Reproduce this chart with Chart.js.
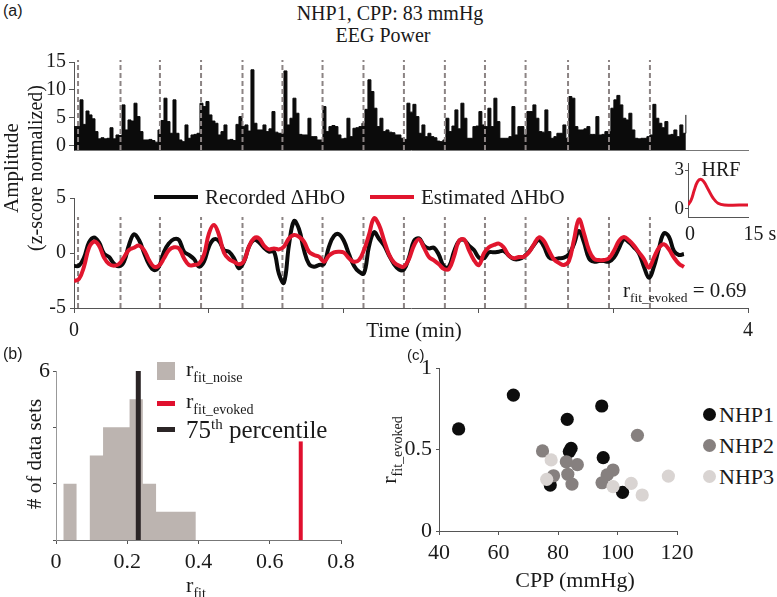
<!DOCTYPE html>
<html>
<head>
<meta charset="utf-8">
<script src="https://cdn.jsdelivr.net/npm/chart.js@4.4.1/dist/chart.umd.min.js"></script>
<style>
  body { margin: 0; width: 777px; height: 597px; position: relative; overflow: hidden; background: #fff;
         font-family: "Liberation Serif", serif; color: #1a1a1a; }
  canvas { position: absolute; }
  .t { position: absolute; white-space: nowrap; line-height: 1; }
  .c { transform: translate(-50%, -50%); }
  .l { transform: translate(0, -50%); }
  .rot { transform: translate(-50%, -50%) rotate(-90deg); }
  .sans { font-family: "Liberation Sans", sans-serif; }
  sub { font-size: 0.64em; vertical-align: -0.4em; line-height: 0; }
  sup { font-size: 0.6em; vertical-align: 0.6em; line-height: 0; }
  .seg { position: absolute; }
</style>
</head>
<body>

<!-- panel labels and titles -->
<div class="t sans" style="left:3px;top:3px;font-size:16px">(a)</div>
<div class="t c" style="left:390px;top:13px;font-size:20px">NHP1, CPP: 83 mmHg</div>
<div class="t c" style="left:383px;top:35px;font-size:20px">EEG Power</div>
<div class="t rot" style="left:11px;top:168px;font-size:21px">Amplitude</div>
<div class="t rot" style="left:35px;top:168px;font-size:20px">(z-score normalized)</div>

<div class="seg" style="left:154px;top:195px;width:44px;height:4px;background:#0b0b0b"></div>
<div class="t l" style="left:205px;top:197px;font-size:21px">Recorded &Delta;HbO</div>
<div class="seg" style="left:370px;top:195px;width:44px;height:4px;background:#e1162e"></div>
<div class="t l" style="left:421px;top:197px;font-size:21px">Estimated &Delta;HbO</div>

<div class="t c" style="left:721px;top:169px;font-size:20px">HRF</div>
<div class="t c" style="left:690px;top:233px;font-size:20px">0</div>
<div class="t c" style="left:760px;top:233px;font-size:20px">15 s</div>

<div class="t l" style="left:623px;top:290px;font-size:21px">r<sub>fit_evoked</sub> = 0.69</div>
<div class="t c" style="left:414px;top:330px;font-size:21px">Time (min)</div>

<div class="t sans" style="left:3px;top:346px;font-size:16px">(b)</div>
<div class="seg" style="left:157px;top:362px;width:18px;height:18px;background:#bcb4b0"></div>
<div class="t l" style="left:186px;top:369px;font-size:22px">r<sub>fit_noise</sub></div>
<div class="seg" style="left:157px;top:401px;width:18px;height:5px;background:#e0102e"></div>
<div class="t l" style="left:186px;top:401px;font-size:22px">r<sub>fit_evoked</sub></div>
<div class="seg" style="left:157px;top:427px;width:18px;height:5px;background:#2b2526"></div>
<div class="t l" style="left:186px;top:429px;font-size:25px">75<sup>th</sup> percentile</div>
<div class="t rot" style="left:34px;top:454px;font-size:21px"># of data sets</div>
<div class="t c" style="left:196px;top:585px;font-size:22px">r<sub>fit</sub></div>

<div class="t sans" style="left:407px;top:347px;font-size:15px">(c)</div>
<div class="t rot" style="left:389px;top:450px;font-size:22px">r<sub>fit_evoked</sub></div>
<div class="t c" style="left:575px;top:580px;font-size:22px">CPP (mmHg)</div>

<script>
// ---------- data ----------
const stimTimes = [0.024, 0.276, 0.510, 0.754, 1.000, 1.237, 1.475, 1.718, 1.958, 2.201, 2.439, 2.680, 2.932, 3.175, 3.418];

// EEG power, sampled every EEG_DT minutes from t = 0
const EEG_DT = 0.0178;
const eegPower = [
  3.4, 3.4, 8.2, 3.8, 6.2, 5.5, 4.8, 2.5, 1.2, 1.4,
  1.2, 1.3, 3.2, 1.2, 1.9, 1.8, 7.3, 2.8, 4.6, 4.4,
  7.6, 5.2, 2.5, 1.0, 1.0, 1.1, 0.9, 0.6, 2.8, 4.5,
  8.5, 4.3, 2.2, 8.2, 2.2, 1.0, 0.7, 3.7, 1.3, 1.9,
  2.0, 2.2, 7.6, 7.0, 7.9, 5.5, 4.4, 4.0, 1.9, 2.5,
  3.7, 1.0, 1.1, 0.9, 3.8, 5.2, 3.4, 3.7, 2.6, 13.6,
  4.0, 2.8, 2.8, 3.7, 2.5, 3.0, 6.1, 2.4, 2.2, 2.2,
  13.4, 3.7, 4.9, 8.5, 5.8, 2.0, 1.9, 1.9, 4.9, 1.6,
  1.6, 1.0, 1.0, 7.0, 2.5, 3.4, 3.6, 3.4, 1.9, 1.2,
  1.3, 4.9, 1.6, 3.1, 3.2, 3.4, 4.0, 6.5, 11.8, 9.7,
  6.7, 3.4, 4.9, 2.5,
  2.8, 2.4, 2.3, 1.9, 1.9, 1.3, 1.1, 7.6, 6.0, 7.4,
  5.2, 2.2, 3.7, 1.6, 2.2, 1.6, 1.4, 0.8, 0.7, 1.0,
  4.9, 2.5, 3.5, 6.4, 3.0, 7.6, 4.9, 1.3, 1.3, 3.4,
  3.5, 6.1, 3.7, 3.4, 6.7, 3.4, 8.5, 4.3, 1.3, 1.3,
  1.3, 1.6, 7.0, 1.9, 3.4, 3.4, 1.9, 6.1, 6.1, 7.3,
  4.9, 2.5, 2.4, 6.4, 2.5, 1.3, 1.6, 2.2, 2.2, 3.7,
  1.3, 8.8, 8.5, 3.4, 2.8, 2.8, 3.0, 3.4, 2.0, 2.0,
  5.2, 1.9, 2.0, 2.5, 2.5, 6.7, 8.2, 9.0, 7.3, 4.9,
  4.6, 5.8, 2.8, 1.3, 1.2, 1.3, 1.3, 1.6, 1.9, 7.4,
  4.9, 4.0, 3.2, 4.3, 1.9, 2.0, 2.8, 1.6, 3.7, 2.2, 5.5
];

// HbO traces, sampled every HBO_DT minutes from t = 0
const HBO_DT = 0.02967;
const hboRecorded = [
  -1.18, -1.15, -0.42, 0.97, 1.42, 0.97, -0.06, -0.36, -0.97, -1.21,
  -0.79, 0.73, 1.70, 1.18, 0.03, -1.03, -1.55, -1.24, 0.12, 0.88,
  1.27, 1.18, 0.12, -0.18, -0.55, -1.24, -0.79, 0.58, 1.24, 1.09,
  0.27, 0.12, -0.48, -1.39, -0.79, 0.58, 1.18, 0.97, 0.48, 0.12,
  0.12, -1.9, -2.7, 0.73, 2.9, 2.18, 0.27, -1.0, -1.24, -1.09,
  -1.0, 0.58, 1.55, 1.70, 1.09, -0.12, -1.15, -1.70, -1.85, 0.58,
  1.88, 1.3, 0.7,
  -0.2, -1.0, -1.5, -1.5, -0.42, 1.09, 1.33, 0.67, 0.42, 0.48,
  -0.18, -1.24, -1.24, 0.12, 1.09, 1.18, 0.67, 0.27, -0.42, -0.48,
  0.06, 0.06, 0.12, 0.18, -0.24, -0.55, -0.55, -0.33, 0.12, 0.73,
  1.18, 0.58, -0.39, -0.55, -0.48, -0.42, -0.12, 0.79, 2.0, 0.97,
  -0.48, -0.79, -0.73, -0.73, -0.79, -0.42, 0.42, 1.27, 0.97, 0.52,
  -0.03, -1.24, -2.25, -1.24, 0.42, 1.79, 1.48, 0.18, -0.18, -0.09
];
const hboEstimated = [
  -2.55, -2.36, -1.24, 0.48, 1.03, 0.67, -0.42, -1.0, -1.15, -1.0,
  -0.39, 0.27, 0.48, 0.67, 0.27, -0.64, -1.24, -1.15, -0.48, 0.27,
  0.52, 0.42, -0.48, -1.09, -1.09, -0.97, -0.18, 1.79, 2.55, 1.64,
  0.03, -0.55, -0.79, -1.03, -0.73, 0.58, 1.33, 1.33, 0.67, 0.33,
  0.42, 0.33, 0.58, 1.33, 1.64, 1.48, 1.03, 0.12, -0.18, -0.33,
  -0.79, -0.24, 0.06, 0.12, 0.03, -0.48, -0.79, -0.64, 0.27, 1.64,
  3.15, 2.55, 1.18,
  -0.12, -0.85, -1.15, -1.24, -0.55, 0.67, 1.24, 0.48, -0.36, -0.67,
  -1.03, -1.45, -1.45, -0.33, 1.09, 1.24, 0.27, -0.64, -1.09, -0.03,
  0.52, 0.73, 0.85, 0.48, -0.24, -0.48, -0.36, -0.33, 0.06, 0.79,
  1.42, 1.09, 0.21, -0.58, -0.91, -1.09, -0.73, 1.18, 3.06, 1.79,
  0.27, -0.52, -0.64, -0.64, -0.48, 0.21, 1.09, 1.45, 1.15, 0.67,
  0.06, -0.55, -1.33, -0.42, 0.48, 0.79, 0.33, -0.42, -0.97, -1.27
];

// HRF inset (seconds)
const hrfTime  = [0, 0.79, 1.58, 2.37, 3.16, 3.95, 5.13, 6.32, 7.5, 9.08, 15];
const hrfValue = [0.31, 0.69, 1.46, 2.10, 2.28, 2.10, 1.46, 0.82, 0.44, 0.31, 0.31];

// histogram (b)
const histEdges  = [0.0205, 0.0577, 0.0949, 0.1321, 0.1693, 0.2065, 0.2437, 0.2809, 0.3181, 0.3553, 0.3925];
const histCounts = [2, 0, 3, 4, 4, 5, 2, 1, 1, 1];
const percentile75 = 0.231;
const rFitEvoked = 0.687;
const rFitEvokedBar = 3.5;

// scatter (c)
const nhp1Cpp = [46.6, 65.0, 83.1, 94.7, 84.4, 83.8, 95.2, 77.4, 101.7];
const nhp1R   = [0.626, 0.834, 0.685, 0.767, 0.507, 0.487, 0.45, 0.282, 0.237];
const nhp2Cpp = [74.8, 106.7, 82.8, 86.5, 78.5, 83.3, 84.7, 98.5, 96.5, 94.8];
const nhp2R   = [0.491, 0.587, 0.425, 0.407, 0.339, 0.348, 0.288, 0.374, 0.344, 0.296];
const nhp3Cpp = [77.7, 76.2, 98.5, 104.6, 108.3, 117.1];
const nhp3R   = [0.436, 0.317, 0.272, 0.292, 0.221, 0.337];

// ---------- colours ----------
const BLACK = '#0b0b0b', RED = '#e1162e', DASH = '#8c8484', AXIS = '#555';

Chart.defaults.font.family = '"Liberation Serif", serif';
Chart.defaults.color = '#1a1a1a';
Chart.defaults.animation = false;
Chart.defaults.plugins.legend.display = false;
Chart.defaults.plugins.tooltip.enabled = false;

// canvas sized so the chart area lands on the given box
function place(plotLeft, plotTop, plotW, plotH, yW, xH, pt, pr) {
  const c = document.createElement('canvas');
  const w = yW + plotW + pr, h = pt + plotH + xH;
  c.width = w; c.height = h;
  c.style.left = (plotLeft - yW) + 'px';
  c.style.top = (plotTop - pt) + 'px';
  c.style.width = w + 'px'; c.style.height = h + 'px';
  document.body.insertBefore(c, document.body.firstChild);
  return c;
}
const fitW = w => s => { s.width = w; s.paddingTop = 0; s.paddingBottom = 0; };
const fitH = h => s => { s.height = h; s.paddingLeft = 0; s.paddingRight = 0; };
const setTicks = vals => s => { s.ticks = vals.map(v => ({ value: v })); };
const plain = v => String(Math.round(v * 100) / 100);

function stimLines(y0, y1) {
  const pts = [];
  stimTimes.forEach(t => pts.push({ x: t, y: y0 }, { x: t, y: y1 }, { x: t, y: null }));
  return pts;
}
const dashSet = (y0, y1) => ({
  data: stimLines(y0, y1), borderColor: DASH, borderWidth: 2, borderDash: [5, 3],
  pointRadius: 0, spanGaps: false, clip: false
});
const axisGrid = len => ({ drawOnChartArea: false, drawTicks: true, tickLength: len, color: AXIS });

// ---------- (a) EEG power ----------
new Chart(place(74, 62, 674, 88, 74, 2, 12, 10), {
  type: 'line',
  data: { datasets: [
    Object.assign(dashSet(-0.8, 15.35), { order: 1 }),
    { data: eegPower.map((v, i) => ({ x: i * EEG_DT, y: v })), stepped: true,
      borderColor: BLACK, borderWidth: 1, backgroundColor: BLACK, fill: 'start', pointRadius: 0, order: 2 }
  ]},
  options: {
    responsive: false, layout: { padding: { top: 12, right: 10 } },
    scales: {
      x: { type: 'linear', min: 0, max: 4, ticks: { display: false }, grid: { display: false },
           border: { color: '#777' }, afterFit: fitH(2) },
      y: { min: -0.8, max: 15, afterBuildTicks: setTicks([0, 5, 10, 15]),
           ticks: { font: { size: 20 }, padding: 3, autoSkip: false, callback: plain }, grid: axisGrid(5),
           border: { color: AXIS }, afterFit: fitW(74) }
    }
  }
});

// ---------- (a) HbO ----------
new Chart(place(74, 198, 674, 110, 74, 34, 12, 14), {
  type: 'line',
  data: { datasets: [
    Object.assign(dashSet(-5, 3.27), { order: 3 }),
    { data: hboRecorded.map((v, i) => ({ x: i * HBO_DT, y: v })), borderColor: BLACK,
      borderWidth: 4, pointRadius: 0, tension: 0.4, order: 2 },
    { data: hboEstimated.map((v, i) => ({ x: i * HBO_DT, y: v })), borderColor: RED,
      borderWidth: 4, pointRadius: 0, tension: 0.4, order: 1 }
  ]},
  options: {
    responsive: false, layout: { padding: { top: 12, right: 14 } },
    scales: {
      x: { type: 'linear', min: 0, max: 4, afterBuildTicks: setTicks([0, 0.8, 1.6, 2.4, 3.2, 4]),
           ticks: { font: { size: 20 }, padding: 6, maxRotation: 0, autoSkip: false,
                    callback: v => (Math.abs(v) < 1e-6 ? '0' : Math.abs(v - 4) < 1e-6 ? '4' : '') },
           grid: axisGrid(5), border: { color: AXIS }, afterFit: fitH(34) },
      y: { min: -5, max: 5, afterBuildTicks: setTicks([-5, 0, 5]),
           ticks: { font: { size: 20 }, padding: 4, autoSkip: false, callback: plain }, grid: axisGrid(4),
           border: { color: AXIS }, afterFit: fitW(74) }
    }
  }
});

// ---------- (a) HRF inset ----------
new Chart(place(688, 163, 60, 54, 16, 2, 8, 4), {
  type: 'line',
  data: { datasets: [
    { data: hrfTime.map((t, i) => ({ x: t, y: hrfValue[i] })), borderColor: RED,
      borderWidth: 3, pointRadius: 0, tension: 0.4 }
  ]},
  options: {
    responsive: false, layout: { padding: { top: 8, right: 4 } },
    scales: {
      x: { type: 'linear', min: 0, max: 15, ticks: { display: false }, grid: { display: false },
           border: { color: AXIS }, afterFit: fitH(2) },
      y: { min: -0.62, max: 3.54, afterBuildTicks: setTicks([0, 3]),
           ticks: { font: { size: 19 }, padding: 1, autoSkip: false, callback: plain }, grid: axisGrid(3),
           border: { color: AXIS }, afterFit: fitW(16) }
    }
  }
});

// ---------- (b) histogram ----------
const histPts = [{ x: histEdges[0], y: 0 }];
histCounts.forEach((c, i) => histPts.push({ x: histEdges[i], y: c }));
histPts.push({ x: histEdges[histEdges.length - 1], y: 0 });

new Chart(place(56, 371, 285, 169, 56, 36, 14, 20), {
  type: 'line',
  data: { datasets: [
    { data: [{ x: percentile75, y: 0 }, { x: percentile75, y: 6 }], borderColor: '#2b2526',
      borderWidth: 5, pointRadius: 0, order: 1, clip: false },
    { data: [{ x: rFitEvoked, y: 0 }, { x: rFitEvoked, y: rFitEvokedBar }], borderColor: '#e0102e',
      borderWidth: 4, pointRadius: 0, order: 2 },
    { data: histPts, stepped: true, borderWidth: 0, borderColor: 'rgba(0,0,0,0)',
      backgroundColor: '#bcb4b0', fill: 'origin', pointRadius: 0, order: 3 }
  ]},
  options: {
    responsive: false, layout: { padding: { top: 14, right: 20 } },
    scales: {
      x: { type: 'linear', min: 0, max: 0.8, afterBuildTicks: setTicks([0, 0.2, 0.4, 0.6, 0.8]),
           ticks: { font: { size: 22 }, padding: 5, maxRotation: 0, autoSkip: false, callback: plain },
           grid: axisGrid(4), border: { color: '#777' }, afterFit: fitH(36) },
      y: { min: 0, max: 6, afterBuildTicks: setTicks([0, 2, 4, 6]),
           ticks: { font: { size: 22 }, padding: 3, autoSkip: false, callback: v => (v === 6 ? '6' : '') },
           grid: axisGrid(3), border: { color: '#999' }, afterFit: fitW(56) }
    }
  }
});

// ---------- (c) scatter ----------
const pts = (xs, ys) => xs.map((x, i) => ({ x, y: ys[i] }));
new Chart(place(439, 368, 238, 163, 50, 36, 14, 20), {
  type: 'scatter',
  data: { datasets: [
    { label: 'NHP1', data: pts(nhp1Cpp, nhp1R), backgroundColor: '#0d0d0d', pointRadius: 6.6, borderWidth: 0, order: 3 },
    { label: 'NHP2', data: pts(nhp2Cpp, nhp2R), backgroundColor: '#86807f', pointRadius: 6.6, borderWidth: 0, order: 2 },
    { label: 'NHP3', data: pts(nhp3Cpp, nhp3R), backgroundColor: '#d9d4d2', pointRadius: 6.6, borderWidth: 0, order: 1 }
  ]},
  options: {
    responsive: false, layout: { padding: { top: 14, right: 20 } },
    scales: {
      x: { type: 'linear', min: 40, max: 120, afterBuildTicks: setTicks([40, 60, 80, 100, 120]),
           ticks: { font: { size: 22 }, padding: 5, maxRotation: 0, autoSkip: false, callback: plain },
           grid: axisGrid(4), border: { color: AXIS }, afterFit: fitH(36) },
      y: { min: 0, max: 1, afterBuildTicks: setTicks([0, 0.5, 1]),
           ticks: { font: { size: 22 }, padding: 4, autoSkip: false, callback: plain },
           grid: axisGrid(3), border: { color: AXIS }, afterFit: fitW(50) }
    }
  }
});
</script>

<!-- scatter legend -->
<div class="seg" style="left:703px;top:408px;width:13px;height:13px;border-radius:50%;background:#0d0d0d"></div>
<div class="t l" style="left:719px;top:415px;font-size:22px">NHP1</div>
<div class="seg" style="left:703px;top:439px;width:13px;height:13px;border-radius:50%;background:#86807f"></div>
<div class="t l" style="left:719px;top:446px;font-size:22px">NHP2</div>
<div class="seg" style="left:703px;top:470px;width:13px;height:13px;border-radius:50%;background:#d9d4d2"></div>
<div class="t l" style="left:719px;top:477px;font-size:22px">NHP3</div>
</body>
</html>
